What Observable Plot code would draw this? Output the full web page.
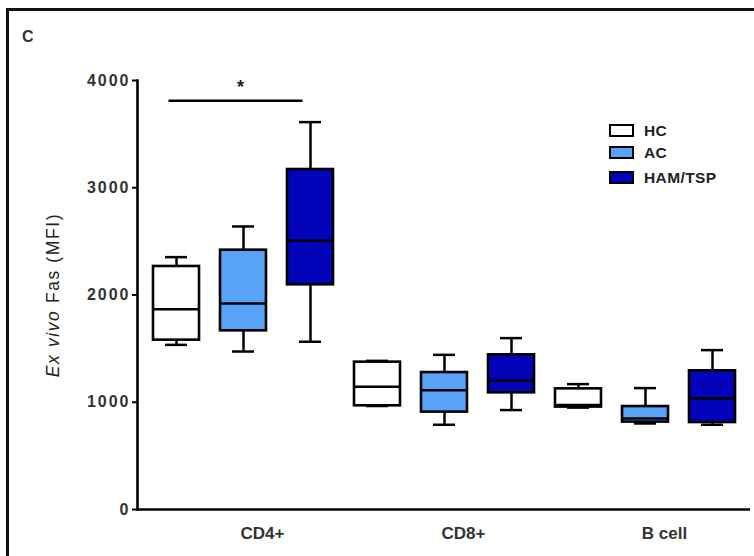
<!DOCTYPE html>
<html>
<head>
<meta charset="utf-8">
<script src="https://cdn.jsdelivr.net/npm/d3@7"></script>
<script src="https://cdn.jsdelivr.net/npm/@observablehq/plot@0.6"></script>
<style>
  html, body { margin: 0; padding: 0; background: #fff; overflow: hidden; }
  #wrap { position: relative; width: 754px; height: 556px; overflow: hidden; font-family: "Liberation Sans", Arial, sans-serif; }
  #border { position: absolute; left: 6px; top: 8px; width: 900px; height: 700px; border-left: 3px solid #111; border-top: 3px solid #111; border-right: none; border-bottom: none; }
  #panel { position: absolute; left: 22px; top: 28px; font-size: 16px; font-weight: bold; color: #333; }
  #ylabel { position: absolute; left: 53px; top: 295px; transform: translate(-50%, -50%) rotate(-90deg); white-space: nowrap; font-size: 17.5px; color: #222; letter-spacing: 1.6px; }
  .leg { position: absolute; left: 609px; height: 13px; display: flex; align-items: center; }
  .leg .sw { width: 25px; height: 13px; box-sizing: border-box; border: 2.5px solid #000; }
  .leg .lb { position: absolute; left: 35px; font-size: 15.5px; font-weight: bold; color: #222; white-space: nowrap; letter-spacing: 0.4px; }
  svg { position: absolute; left: 0; top: 0; }
</style>
</head>
<body>
<div id="wrap">
  <div id="border"></div>
  <div id="panel">C</div>
  <div id="ylabel"><i>Ex vivo</i> Fas (MFI)</div>
</div>
<script>
// ---- data ----
const groups = ["CD4+", "CD8+", "B cell"];
const conditions = ["HC", "AC", "HAM/TSP"];
const conditionColors = ["#ffffff", "#58A2F8", "#0303BA"];
// values in order: CD4+ (HC, AC, HAM/TSP), CD8+ (...), B cell (...)
const whiskerLow  = [1535, 1473, 1564,  965,  790,  927,  950,  802,  790];
const q1          = [1579, 1666, 2095,  967,  908, 1088,  955,  815,  811];
const median      = [1868, 1921, 2505, 1144, 1113, 1200,  975,  849, 1035];
const q3          = [2266, 2418, 3170, 1374, 1277, 1442, 1125,  960, 1293];
const whiskerHigh = [2353, 2639, 3612, 1386, 1442, 1598, 1169, 1132, 1486];
const yTicks = [0, 1000, 2000, 3000, 4000];
const sigFrom = ["CD4+", "HC"];
const sigTo = ["CD4+", "HAM/TSP"];
const sigY = [3811];
const sigLabel = ["*"];

// ---- build table ----
const key = (g, c) => g + "|" + c;
const rows = [];
groups.forEach((g, gi) => conditions.forEach((c, ci) => {
  const i = gi * conditions.length + ci;
  rows.push({group: g, cond: c, key: key(g, c), color: conditionColors[ci],
    lo: whiskerLow[i], q1: q1[i], med: median[i], q3: q3[i], hi: whiskerHigh[i]});
}));
const keys = rows.map(d => d.key);
const sig = sigY.map((y, i) => ({x1: key(...sigFrom), x2: key(...sigTo), y, label: sigLabel[i], mid: key(sigFrom[0], conditions[1])}));

const chart = Plot.plot({
  width: 754,
  height: 556,
  marginLeft: 137,
  marginRight: 4,
  marginTop: 80,
  marginBottom: 47,
  style: {fontFamily: '"Liberation Sans", Arial, sans-serif', background: "transparent", overflow: "visible"},
  x: {domain: keys, paddingInner: 0.32, paddingOuter: 0.18, axis: null},
  y: {domain: [0, 4000], axis: null},
  color: {type: "identity"},
  marks: [
    Plot.axisY({ticks: yTicks, tickSize: 5, tickPadding: 2, fontSize: 16, fontWeight: "bold", fill: "#333", strokeWidth: 2, label: null, tickFormat: d => String(d)}),
    Plot.frame({anchor: "left", strokeWidth: 2.6, stroke: "#000"}),
    Plot.ruleY([0], {strokeWidth: 2.6, stroke: "#000"}),
    // whiskers
    Plot.ruleX(rows, {x: "key", y1: "lo", y2: "q1", stroke: "#000", strokeWidth: 2.5}),
    Plot.ruleX(rows, {x: "key", y1: "q3", y2: "hi", stroke: "#000", strokeWidth: 2.5}),
    Plot.tickY(rows, {x: "key", y: "lo", insetLeft: 12, insetRight: 12, stroke: "#000", strokeWidth: 2.5}),
    Plot.tickY(rows, {x: "key", y: "hi", insetLeft: 12, insetRight: 12, stroke: "#000", strokeWidth: 2.5}),
    // boxes
    Plot.barY(rows, {x: "key", y1: "q1", y2: "q3", fill: "color", stroke: "#000", strokeWidth: 2.6}),
    Plot.tickY(rows, {x: "key", y: "med", stroke: "#000", strokeWidth: 2.5}),
    // significance
    Plot.link(sig, {x1: "x1", x2: "x2", y1: "y", y2: "y", stroke: "#000", strokeWidth: 2.5, dx: -8}),
    Plot.text(sig, {x: "mid", y: "y", text: "label", dy: -14, dx: -3, fontSize: 18, fontWeight: "bold", fill: "#222", lineAnchor: "middle"}),
    // group labels
    Plot.text(groups, {x: g => key(g, conditions[1]), text: d => d, frameAnchor: "bottom", dy: 24, dx: 19, fontSize: 17, fontWeight: "bold", fill: "#333", lineAnchor: "middle", ariaLabel: "group label"})
  ]
});

d3.select(chart).selectAll("g[aria-label='y-axis tick label'] text").attr("letter-spacing", "2px");
d3.select(chart).selectAll("g[aria-label='group label'] text").attr("letter-spacing", "1.5px");

const wrap = document.getElementById("wrap");
wrap.insertBefore(chart, wrap.firstChild.nextSibling);

// legend
const legTops = [124, 146, 171];
conditions.forEach((c, i) => {
  const item = document.createElement("div");
  item.className = "leg";
  item.style.top = legTops[i] + "px";
  const sw = document.createElement("div");
  sw.className = "sw";
  sw.style.background = conditionColors[i];
  const lb = document.createElement("div");
  lb.className = "lb";
  lb.textContent = c;
  item.appendChild(sw);
  item.appendChild(lb);
  wrap.appendChild(item);
});
</script>
</body>
</html>
